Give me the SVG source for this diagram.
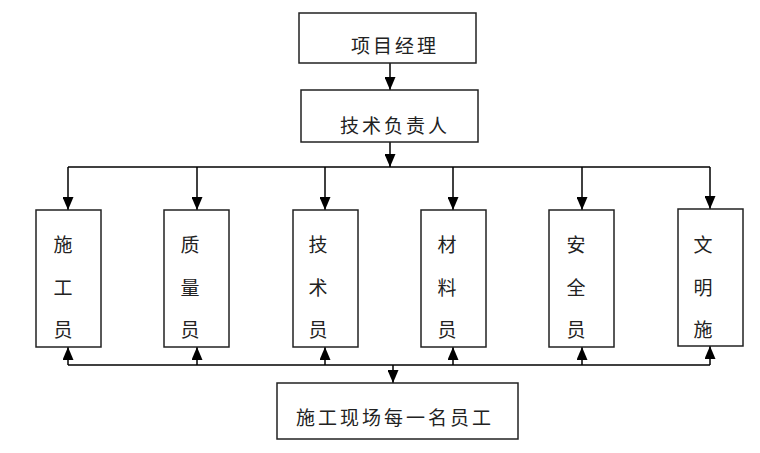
<svg xmlns="http://www.w3.org/2000/svg" width="760" height="453" viewBox="0 0 760 453">
<style>
.box{fill:#fff;stroke:#222;stroke-width:1.5}
.ln{fill:none;stroke:#000;stroke-width:1.5}
.t{font-family:"Noto Sans CJK SC","Noto Sans",sans-serif;font-size:19px;fill:#222;text-anchor:middle}
.h{letter-spacing:3px}
</style>
<defs>
<marker id="ar" viewBox="0 0 13 11" refX="13" refY="5.5" markerWidth="13" markerHeight="11" markerUnits="userSpaceOnUse" orient="auto">
<path d="M0,0 L13,5.5 L0,11 z" fill="#000"/>
</marker>
</defs>
<rect width="760" height="453" fill="#fff"/>
<g id="connectors">
<line class="ln" x1="390" y1="63" x2="390" y2="90" marker-end="url(#ar)"/>
<line class="ln" x1="390" y1="142" x2="390" y2="167" marker-end="url(#ar)"/>
<line class="ln" x1="68" y1="167" x2="710" y2="167"/>
<line class="ln" x1="68" y1="167" x2="68" y2="210" marker-end="url(#ar)"/>
<line class="ln" x1="197" y1="167" x2="197" y2="210" marker-end="url(#ar)"/>
<line class="ln" x1="325" y1="167" x2="325" y2="210" marker-end="url(#ar)"/>
<line class="ln" x1="453" y1="167" x2="453" y2="210" marker-end="url(#ar)"/>
<line class="ln" x1="582" y1="167" x2="582" y2="210" marker-end="url(#ar)"/>
<line class="ln" x1="710" y1="167" x2="710" y2="209" marker-end="url(#ar)"/>
<line class="ln" x1="68" y1="365" x2="710" y2="365"/>
<line class="ln" x1="68" y1="365" x2="68" y2="347" marker-end="url(#ar)"/>
<line class="ln" x1="197" y1="365" x2="197" y2="347" marker-end="url(#ar)"/>
<line class="ln" x1="325" y1="365" x2="325" y2="347" marker-end="url(#ar)"/>
<line class="ln" x1="453" y1="365" x2="453" y2="347" marker-end="url(#ar)"/>
<line class="ln" x1="582" y1="365" x2="582" y2="347" marker-end="url(#ar)"/>
<line class="ln" x1="710" y1="365" x2="710" y2="346" marker-end="url(#ar)"/>
<line class="ln" x1="393" y1="365" x2="393" y2="383" marker-end="url(#ar)"/>
</g>
<g id="pm">
<rect class="box" x="299" y="13" width="177" height="50"/>
<text class="t h" x="395" y="53">项目经理</text>
</g>
<g id="tech-lead">
<rect class="box" x="301" y="90" width="177" height="52"/>
<text class="t h" x="395" y="133">技术负责人</text>
</g>
<g id="n1">
<rect class="box" x="36" y="210" width="65" height="137"/>
<text class="t" x="63" y="252">施</text><text class="t" x="63" y="295">工</text><text class="t" x="63" y="337">员</text>
</g>
<g id="n2">
<rect class="box" x="164" y="210" width="65" height="137"/>
<text class="t" x="190" y="252">质</text><text class="t" x="190" y="295">量</text><text class="t" x="190" y="337">员</text>
</g>
<g id="n3">
<rect class="box" x="293" y="210" width="65" height="137"/>
<text class="t" x="318" y="252">技</text><text class="t" x="318" y="295">术</text><text class="t" x="318" y="337">员</text>
</g>
<g id="n4">
<rect class="box" x="421" y="210" width="65" height="137"/>
<text class="t" x="447" y="252">材</text><text class="t" x="447" y="295">料</text><text class="t" x="447" y="337">员</text>
</g>
<g id="n5">
<rect class="box" x="549" y="210" width="65" height="137"/>
<text class="t" x="576" y="252">安</text><text class="t" x="576" y="295">全</text><text class="t" x="576" y="337">员</text>
</g>
<g id="n6">
<rect class="box" x="678" y="209" width="65" height="137"/>
<text class="t" x="703" y="252">文</text><text class="t" x="703" y="295">明</text><text class="t" x="703" y="337">施</text>
</g>
<g id="staff">
<rect class="box" x="277" y="383" width="241" height="56"/>
<text class="t h" x="395" y="425">施工现场每一名员工</text>
</g>
</svg>
